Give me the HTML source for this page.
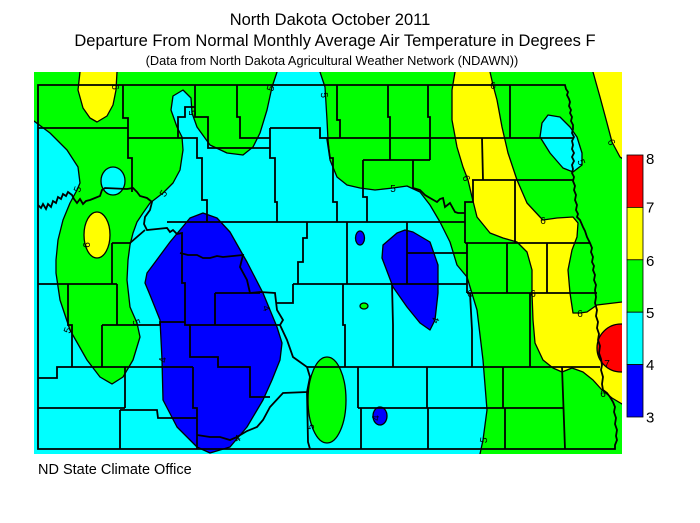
<!DOCTYPE html>
<html><head><meta charset="utf-8"><style>
html,body{margin:0;padding:0;background:#fff;}
svg{display:block;font-family:"Liberation Sans",Arial,sans-serif;}
</style></head><body>
<svg width="700" height="523" viewBox="0 0 700 523" xmlns="http://www.w3.org/2000/svg">
<defs><clipPath id="m"><rect x="34" y="72" width="588" height="382"/></clipPath></defs>
<text x="330" y="25" font-size="16.5" text-anchor="middle">North Dakota October 2011</text>
<text x="335" y="46" font-size="16.5" text-anchor="middle">Departure From Normal Monthly Average Air Temperature in Degrees F</text>
<text x="332" y="65" font-size="12.8" text-anchor="middle">(Data from North Dakota Agricultural Weather Network (NDAWN))</text>
<g clip-path="url(#m)">
<rect x="34" y="72" width="588" height="382" fill="#00ff00"/>
<g stroke="#000" stroke-width="1.3" stroke-linejoin="round">
<!-- cyan main -->
<path fill="#00ffff" d="M18,110 L34,121 L50,133 L67,150 L78,167 L80,183 L77,190 L70,203 L63,220 L58,240 L56,260 L56,273 L60,300 L70,330 L87,360 L100,377 L112,384 L123,377 L133,360 L140,337 L137,323 L130,307 L127,280 L128,260 L130,245 L133,233 L137,222 L143,213 L150,203 L163,193 L173,183 L180,170 L183,150 L182,137 L177,127 L171,110 L173,96 L183,90 L191,98 L192,113 L197,127 L210,145 L227,153 L243,155 L253,147 L260,133 L267,110 L272,87 L277,72 L279,60 L318,60 L320,72 L325,87 L327,120 L328,140 L330,160 L337,177 L347,185 L360,188 L375,190 L393,188 L407,186 L420,192 L430,205 L440,222 L450,242 L457,265 L467,277 L477,310 L483,360 L487,410 L483,440 L480,454 L479,470 L18,470 Z"/>
<!-- yellow top-left -->
<path fill="#ffff00" d="M80,60 L80,72 L78,90 L83,108 L90,118 L97,122 L107,116 L113,105 L116,90 L117,72 L117,60 Z"/>
<!-- yellow top-right -->
<path fill="#ffff00" d="M591,60 L593,72 L600,97 L607,123 L612,142 L620,157 L640,170 L640,60 Z"/>
<!-- yellow east band -->
<path fill="#ffff00" d="M456,60 L455,72 L452,90 L452,120 L457,147 L463,167 L468,180 L472,197 L477,217 L490,233 L503,238 L517,242 L527,252 L532,270 L532,293 L533,320 L535,343 L543,360 L553,368 L562,372 L572,368 L583,372 L593,380 L602,390 L612,398 L622,404 L640,412 L640,298 L622,302 L597,305 L587,312 L580,313 L573,313 L570,293 L568,270 L572,250 L577,237 L578,223 L573,217 L557,218 L543,220 L540,217 L527,203 L517,180 L508,153 L502,127 L497,100 L493,85 L490,72 L489,60 Z"/>
<circle cx="621" cy="348" r="24" fill="#ff0000"/>
<!-- green blobs -->
<ellipse cx="327" cy="400" rx="19" ry="43" fill="#00ff00"/>
<ellipse cx="364" cy="306" rx="4" ry="3" fill="#00ff00"/>
<ellipse cx="113" cy="181" rx="12" ry="14" fill="#00ffff"/>
<ellipse cx="97" cy="235" rx="13" ry="23" fill="#ffff00"/>
<!-- blue -->
<path fill="#0000ff" d="M203,213 L217,218 L230,232 L243,255 L247,262 L263,293 L277,327 L282,343 L280,360 L272,380 L263,400 L247,427 L230,447 L210,453 L197,447 L177,427 L163,400 L162,360 L160,320 L150,295 L145,283 L147,273 L153,265 L170,242 L190,218 Z"/>
<ellipse cx="360" cy="238" rx="4.5" ry="7" fill="#0000ff"/>
<path fill="#0000ff" d="M405,230 L397,233 L383,245 L382,258 L393,287 L407,307 L420,323 L430,330 L435,320 L438,293 L438,265 L430,242 L413,232 Z"/>
<ellipse cx="380" cy="416" rx="7" ry="9" fill="#0000ff"/>
<path fill="#00ffff" d="M548,115 L542,123 L540,137 L550,153 L563,168 L573,172 L582,165 L582,153 L577,137 L570,127 L560,117 Z"/>
</g>
<!-- counties / border -->
<g fill="none" stroke="#000" stroke-width="1.8" stroke-linejoin="miter">
<path d="M38,85 L565,85 L566,89 L568,92 L567,95 L569,99 L570,102 L569,106 L571,110 L570,113 L572,117 L571,121 L573,125 L573,129 L572,133 L574,137 L572,141 L573,145 L572,149 L574,153 L572,157 L574,161 L572,165 L573,169 L572,173 L574,177 L573,181 L575,186 L574,190 L576,195 L575,200 L577,205 L576,210 L578,214 L577,217 L580,220 L583,227 L585,231 L587,237 L590,243 L592,248 L591,252 L593,257 L592,262 L594,266 L593,270 L595,275 L594,280 L596,285 L595,290 L596,297 L595,303 L597,310 L596,316 L598,322 L597,328 L599,334 L598,340 L600,346 L599,353 L601,359 L602,365 L601,370 L603,377 L602,384 L603,390 L607,393 L610,397 L613,402 L615,407 L614,412 L616,418 L615,424 L617,430 L616,436 L617,440 L615,445 L615,449 L38,449 Z"/>
<path d="M123,85 L123,118 L128,118 L128,158 L132,158 L132,192"/>
<path d="M38,128 L128,128"/>
<path d="M128,138 L197,138 L197,158 L202,158 L202,200 L207,200 L207,222"/>
<path d="M178,138 L178,117 L185,117 L185,107 L195,107"/>
<path d="M195,85 L195,117 L208,117 L208,148 L270,148"/>
<path d="M237,85 L237,117 L240,117 L240,138 L270,138"/>
<path d="M270,128 L320,128 L320,138 L573,138"/>
<path d="M270,128 L270,158 L275,158 L275,202 L277,202 L277,222"/>
<path d="M327,138 L330,158 L333,158 L333,202 L337,202 L337,222"/>
<path d="M337,85 L337,120 L340,120 L340,138"/>
<path d="M388,85 L388,117 L390,117 L390,160"/>
<path d="M428,85 L428,117 L430,117 L430,160"/>
<path d="M363,160 L430,160"/>
<path d="M363,160 L363,197 L367,197 L367,222"/>
<path d="M413,160 L413,188 L420,190 L425,195 L430,198 L437,202 L440,199 L443,198 L445,207 L450,203 L455,212 L458,213 L465,213"/>
<path d="M510,85 L510,138"/>
<path d="M482,138 L483,180"/>
<path d="M472,180 L573,180"/>
<path d="M473,180 L473,202 L465,202 L465,243"/>
<path d="M515,180 L515,243"/>
<path d="M465,243 L590,243"/>
<path d="M167,222 L465,222"/>
<path d="M407,253 L467,253"/>
<path d="M407,222 L407,284"/>
<path d="M347,222 L347,284"/>
<path d="M307,222 L307,238 L303,238 L303,262 L298,262 L298,284"/>
<path d="M467,243 L467,293"/>
<path d="M507,243 L507,293"/>
<path d="M547,243 L547,293"/>
<path d="M467,293 L597,293"/>
<path d="M293,284 L467,284"/>
<path d="M293,284 L293,303 L277,303"/>
<path d="M343,284 L343,325 L345,325 L345,367"/>
<path d="M392,284 L393,325 L393,367"/>
<path d="M470,293 L472,330 L472,367"/>
<path d="M530,293 L530,367"/>
<path d="M307,367 L600,367"/>
<path d="M358,367 L358,408"/>
<path d="M427,367 L427,408"/>
<path d="M503,367 L503,408"/>
<path d="M562,367 L565,449"/>
<path d="M358,408 L563,408"/>
<path d="M361,408 L361,449"/>
<path d="M428,408 L428,449"/>
<path d="M505,408 L505,449"/>
<path d="M307,392 L308,442 L310,449"/>
<path d="M38,284 L117,284"/>
<path d="M68,284 L68,325 L72,325 L72,367"/>
<path d="M112,243 L112,284"/>
<path d="M112,243 L130,243 L145,230"/>
<path d="M117,284 L117,325"/>
<path d="M102,325 L160,325 L160,322 L185,322"/>
<path d="M102,325 L102,367"/>
<path d="M38,378 L57,378 L57,367 L193,367"/>
<path d="M125,367 L125,408"/>
<path d="M38,408 L125,408"/>
<path d="M120,410 L157,410 L158,418 L197,418"/>
<path d="M120,410 L120,449"/>
<path d="M197,418 L197,449"/>
<path d="M193,367 L193,408 L197,408 L197,418"/>
<path d="M182,253 L182,283 L185,283 L185,325 L280,325"/>
<path d="M190,325 L190,357 L218,357 L218,367 L250,367 L250,397 L270,397"/>
<path d="M215,293 L260,293"/>
<path d="M215,293 L215,325"/>
<path d="M38,205 L41,208 L43,204 L46,209 L48,204 L51,207 L53,201 L56,203 L58,197 L61,199 L63,194 L66,196 L68,192 L72,195 L74,199 L77,203 L80,199 L83,204 L86,201 L90,200 L95,198 L100,196 L102,190 L105,188 L127,189 L133,188 L137,192 L140,196 L147,198 L152,202 L150,210 L145,217 L144,224 L147,230 L157,229 L167,228 L170,232 L173,230 L177,234 L182,233 L182,253"/>
<path d="M180,253 L188,255 L197,255 L203,258 L210,258 L217,256 L223,257 L233,256 L243,255 L240,267 L247,280 L250,293 L260,292 L275,293 L277,310 L283,320 L280,325 L287,340 L293,357 L307,367 L310,377 L307,392 L283,393 L270,407 L263,420 L257,427 L247,431 L237,437 L230,440 L220,437 L210,437 L197,435"/>
</g>
<g font-size="10" fill="#000" text-anchor="middle">
<text x="116" y="91" transform="rotate(90 116 87)">6</text>
<text x="270" y="92" transform="rotate(-75 270 88)">5</text>
<text x="325" y="99" transform="rotate(85 325 95)">5</text>
<text x="192" y="117" transform="rotate(-90 192 113)">5</text>
<text x="77" y="193" transform="rotate(-70 77 189)">5</text>
<text x="163" y="197" transform="rotate(-55 163 193)">5</text>
<text x="86" y="249" transform="rotate(-90 86 245)">6</text>
<text x="393" y="192">5</text>
<text x="467" y="182" transform="rotate(70 467 178)">6</text>
<text x="493" y="89">6</text>
<text x="543" y="224">6</text>
<text x="582" y="166" transform="rotate(70 582 162)">5</text>
<text x="612" y="146" transform="rotate(65 612 142)">6</text>
<text x="67" y="334" transform="rotate(-70 67 330)">5</text>
<text x="137" y="326" transform="rotate(70 137 322)">5</text>
<text x="162" y="364" transform="rotate(-90 162 360)">4</text>
<text x="267" y="312" transform="rotate(70 267 308)">4</text>
<text x="237" y="442" transform="rotate(-30 237 438)">4</text>
<text x="310" y="431" transform="rotate(-90 310 427)">5</text>
<text x="435" y="324" transform="rotate(-70 435 320)">4</text>
<text x="375" y="422" transform="rotate(-90 375 418)">4</text>
<text x="483" y="444" transform="rotate(-80 483 440)">5</text>
<text x="580" y="317">6</text>
<text x="533" y="297">6</text>
<text x="470" y="297">6</text>
<text x="603" y="397">6</text>
<text x="607" y="367">7</text>
</g>
</g>
<g stroke="#000" stroke-width="0.8">
<rect x="627" y="155" width="16" height="52.4" fill="#ff0000"/>
<rect x="627" y="207.4" width="16" height="52.4" fill="#ffff00"/>
<rect x="627" y="259.8" width="16" height="52.4" fill="#00ff00"/>
<rect x="627" y="312.2" width="16" height="52.4" fill="#00ffff"/>
<rect x="627" y="364.6" width="16" height="52.4" fill="#0000ff"/>
</g>
<g font-size="15" fill="#000">
<text x="646" y="164">8</text>
<text x="646" y="212.7">7</text>
<text x="646" y="266">6</text>
<text x="646" y="318">5</text>
<text x="646" y="370">4</text>
<text x="646" y="422.7">3</text>
</g>
<text x="38" y="474" font-size="14.5">ND State Climate Office</text>
</svg>
</body></html>
